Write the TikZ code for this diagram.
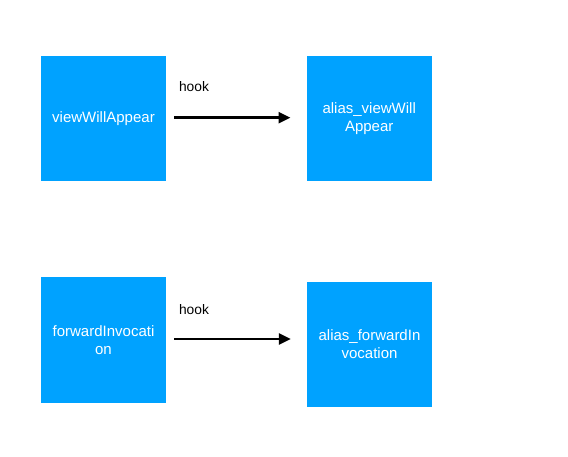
\documentclass[tikz,border=0pt]{standalone}
\usepackage{fontspec}
\setmainfont{Liberation Sans}
\usetikzlibrary{arrows.meta}
\definecolor{boxblue}{RGB}{0,162,255}
\tikzset{
  blockbox/.style={rectangle, fill=boxblue, text=white, minimum width=125bp, minimum height=125bp, inner sep=0pt, align=center, font=\fontsize{15bp}{17.8bp}\selectfont},
  hookarrow/.style={line width=2.5bp, -{Triangle[length=12bp,width=11bp]}, shorten <=8bp, shorten >=16bp},
  hooklabel/.style={font=\fontsize{13.8bp}{16bp}\selectfont, inner sep=0pt}
}
\begin{document}
\begin{tikzpicture}[x=1bp,y=-1bp]
\useasboundingbox (0,0) rectangle (568,457);
\fill[white] (0,0) rectangle (568,457);
\node[blockbox] (a) at (103.5,118.5) {viewWillAppear};
\node[blockbox] (b) at (369.2,118.5) {alias\_viewWill\\Appear};
\node[blockbox] (c) at (103.5,340) {forwardInvocati\\on};
\node[blockbox] (d) at (369.5,344.3) {alias\_forwardIn\\vocation};
\node[hooklabel] (h1) at (194,86.7) {hook};
\node[hooklabel] (h2) at (194,310) {hook};
\draw[hookarrow] ([yshift=0.8bp]a.east) -- ([yshift=0.8bp]b.west);
\draw[hookarrow] ([yshift=1bp]c.east) -- ([yshift=1bp]c.east -| d.west);
\end{tikzpicture}
\end{document}
